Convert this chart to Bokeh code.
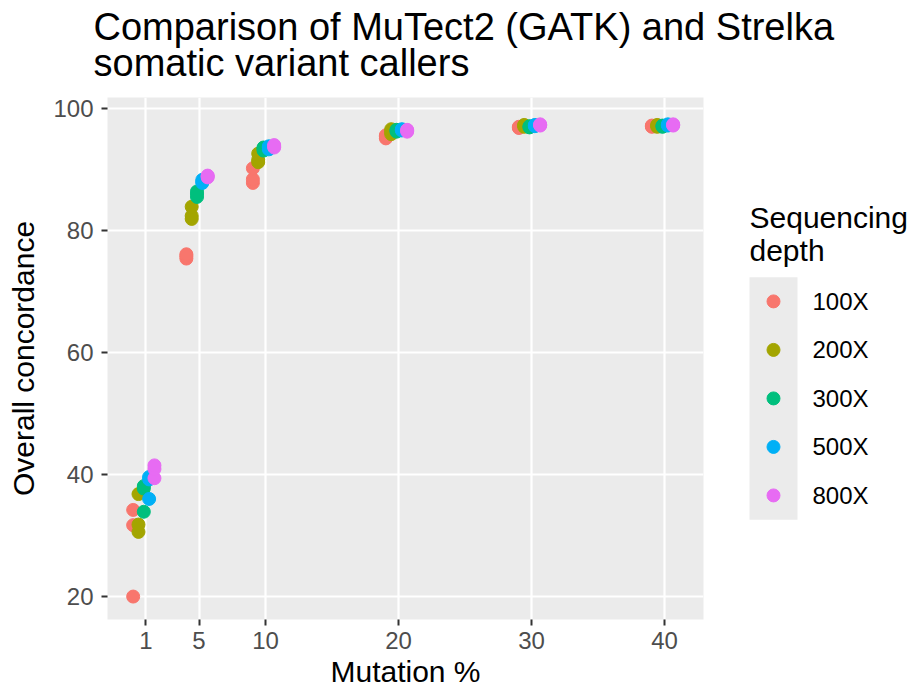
from bokeh.plotting import figure
from bokeh.layouts import column, row
from bokeh.models import Range1d, FixedTicker, ColumnDataSource
from bokeh.core.properties import value
from bokeh.transform import dodge
from bokeh.embed import file_html
from bokeh.resources import INLINE

# ---------------- data ----------------
MUTATION_LEVELS = [1, 5, 10, 20, 30, 40]          # mutation %, x categories
REPLICATES = 3
DEPTHS = ["100X", "200X", "300X", "500X", "800X"]
X_TICKS = [1, 5, 10, 20, 30, 40]
Y_TICKS = [20, 40, 60, 80, 100]
TITLE = "Comparison of MuTect2 (GATK) and Strelka\nsomatic variant callers"
LEGEND_TITLE = ["Sequencing", "depth"]

# overall concordance, 3 values per mutation level (1,1,1,5,5,5,...)
conc_100X = [20.0, 31.7, 34.2, 75.4, 75.8, 76.1, 87.8, 88.4, 90.2,
             95.1, 95.4, 95.6, 96.8, 96.9, 97.0, 97.0, 97.1, 97.2]
conc_200X = [30.6, 31.8, 36.8, 81.9, 82.4, 83.9, 91.2, 91.6, 92.6,
             95.8, 96.2, 96.6, 97.0, 97.2, 97.3, 97.0, 97.2, 97.3]
conc_300X = [33.9, 37.7, 38.1, 85.5, 86.0, 86.4, 93.1, 93.4, 93.6,
             96.2, 96.4, 96.5, 96.9, 97.0, 97.1, 97.0, 97.1, 97.2]
conc_500X = [36.0, 39.2, 39.6, 87.8, 88.0, 88.3, 93.3, 93.6, 93.8,
             96.4, 96.5, 96.6, 97.1, 97.2, 97.3, 97.2, 97.3, 97.4]
conc_800X = [39.4, 40.9, 41.5, 88.7, 88.9, 89.0, 93.6, 93.8, 94.0,
             96.2, 96.4, 96.5, 97.2, 97.3, 97.4, 97.2, 97.3, 97.4]
CONCORDANCE = [conc_100X, conc_200X, conc_300X, conc_500X, conc_800X]

# ---------------- style ----------------
COLORS = ["#F8766D", "#A3A500", "#00BF7D", "#00B0F6", "#E76BF3"]
DODGE = [-0.95, -0.55, -0.15, 0.25, 0.65]
FONT = "Liberation Sans"
PANEL = "#EBEBEB"
FRAME_H = 523   # height of the plotting panel in pixels

# ---------------- title strip ----------------
tfig = figure(width=913, height=85, output_backend="svg", toolbar_location=None,
              x_axis_location=None, y_axis_location=None, title=TITLE,
              min_border_left=107, min_border_right=0, min_border_top=84,
              min_border_bottom=0)
tfig.grid.visible = False
tfig.outline_line_color = None
tfig.background_fill_color = "white"
tfig.title.text_font = FONT
tfig.title.text_font_size = "38px"
tfig.title.text_font_style = "normal"
tfig.title.text_color = "black"
tfig.title.align = "left"
tfig.title.offset = -14
tfig.title.standoff = 0
tfig.title.text_line_height = 0.86

# ---------------- main panel ----------------
p = figure(width=720, height=605, output_backend="svg", toolbar_location=None,
           x_range=Range1d(-1.88, 42.93), y_range=Range1d(16.24, 101.8),
           min_border_left=107, min_border_right=17, min_border_top=12,
           min_border_bottom=70)
p.background_fill_color = PANEL
p.border_fill_color = "white"
p.outline_line_color = None

for ax in (p.xaxis[0], p.yaxis[0]):
    ax.axis_line_color = None
    ax.major_tick_in = 0
    ax.major_tick_out = 6
    ax.major_tick_line_color = "#333333"
    ax.major_tick_line_width = 2
    ax.minor_tick_line_color = None
    ax.major_label_text_font = FONT
    ax.major_label_text_font_size = "24px"
    ax.major_label_text_color = "#4D4D4D"
    ax.axis_label_text_font = FONT
    ax.axis_label_text_font_size = "30px"
    ax.axis_label_text_font_style = "normal"
    ax.axis_label_text_color = "black"

p.xaxis.ticker = FixedTicker(ticks=X_TICKS)
p.yaxis.ticker = FixedTicker(ticks=Y_TICKS)
p.xaxis.axis_label = "Mutation %"
p.yaxis.axis_label = "Overall concordance"
p.xaxis.major_label_standoff = 6
p.xaxis.axis_label_standoff = 3
p.yaxis.major_label_standoff = 8
p.yaxis.axis_label_standoff = 10

p.xgrid.ticker = FixedTicker(ticks=X_TICKS)
p.ygrid.ticker = FixedTicker(ticks=Y_TICKS)
for g in (p.xgrid[0], p.ygrid[0]):
    g.grid_line_color = "white"
    g.grid_line_width = 2.2
    g.minor_grid_line_color = None

for depth, conc, color, off in zip(DEPTHS, CONCORDANCE, COLORS, DODGE):
    muts = [m for m in MUTATION_LEVELS for _ in range(REPLICATES)]
    src = ColumnDataSource(dict(mut=muts, conc=conc))
    p.scatter(x=dodge("mut", off), y="conc", source=src, size=13,
              fill_color=color, line_color=color)

# ---------------- legend (ggplot style) ----------------
# pixel coordinates within the (aligned) panel height: x right, y downwards
KEY = 48.6
KEY_TOP = 180
lg = figure(width=193, height=605, output_backend="svg", toolbar_location=None,
            x_range=Range1d(0, 193), y_range=Range1d(FRAME_H, 0),
            x_axis_location=None, y_axis_location=None,
            min_border_left=0, min_border_right=0, min_border_top=12,
            min_border_bottom=70)
lg.grid.visible = False
lg.outline_line_color = None
lg.background_fill_color = "white"
lg.border_fill_color = "white"

n = len(DEPTHS)
key_y = [KEY_TOP + KEY * (i + 0.5) for i in range(n)]
lg.quad(left=[29], right=[77], top=[KEY_TOP], bottom=[KEY_TOP + KEY * n],
        fill_color=PANEL, line_color=None)
lg.scatter(x=[53] * n, y=key_y, size=13, fill_color=COLORS, line_color=COLORS)
lg.text(x=[92] * n, y=key_y, text=DEPTHS, text_font=value(FONT),
        text_font_size="24px", text_color="black", text_baseline="middle",
        text_align="left")
lg.text(x=[29, 29], y=[120, 153], text=LEGEND_TITLE, text_font=value(FONT),
        text_font_size="30px", text_color="black", text_baseline="alphabetic",
        text_align="left")

layout = column(tfig, row(p, lg))
open("out.html", "w").write(file_html(layout, INLINE))
